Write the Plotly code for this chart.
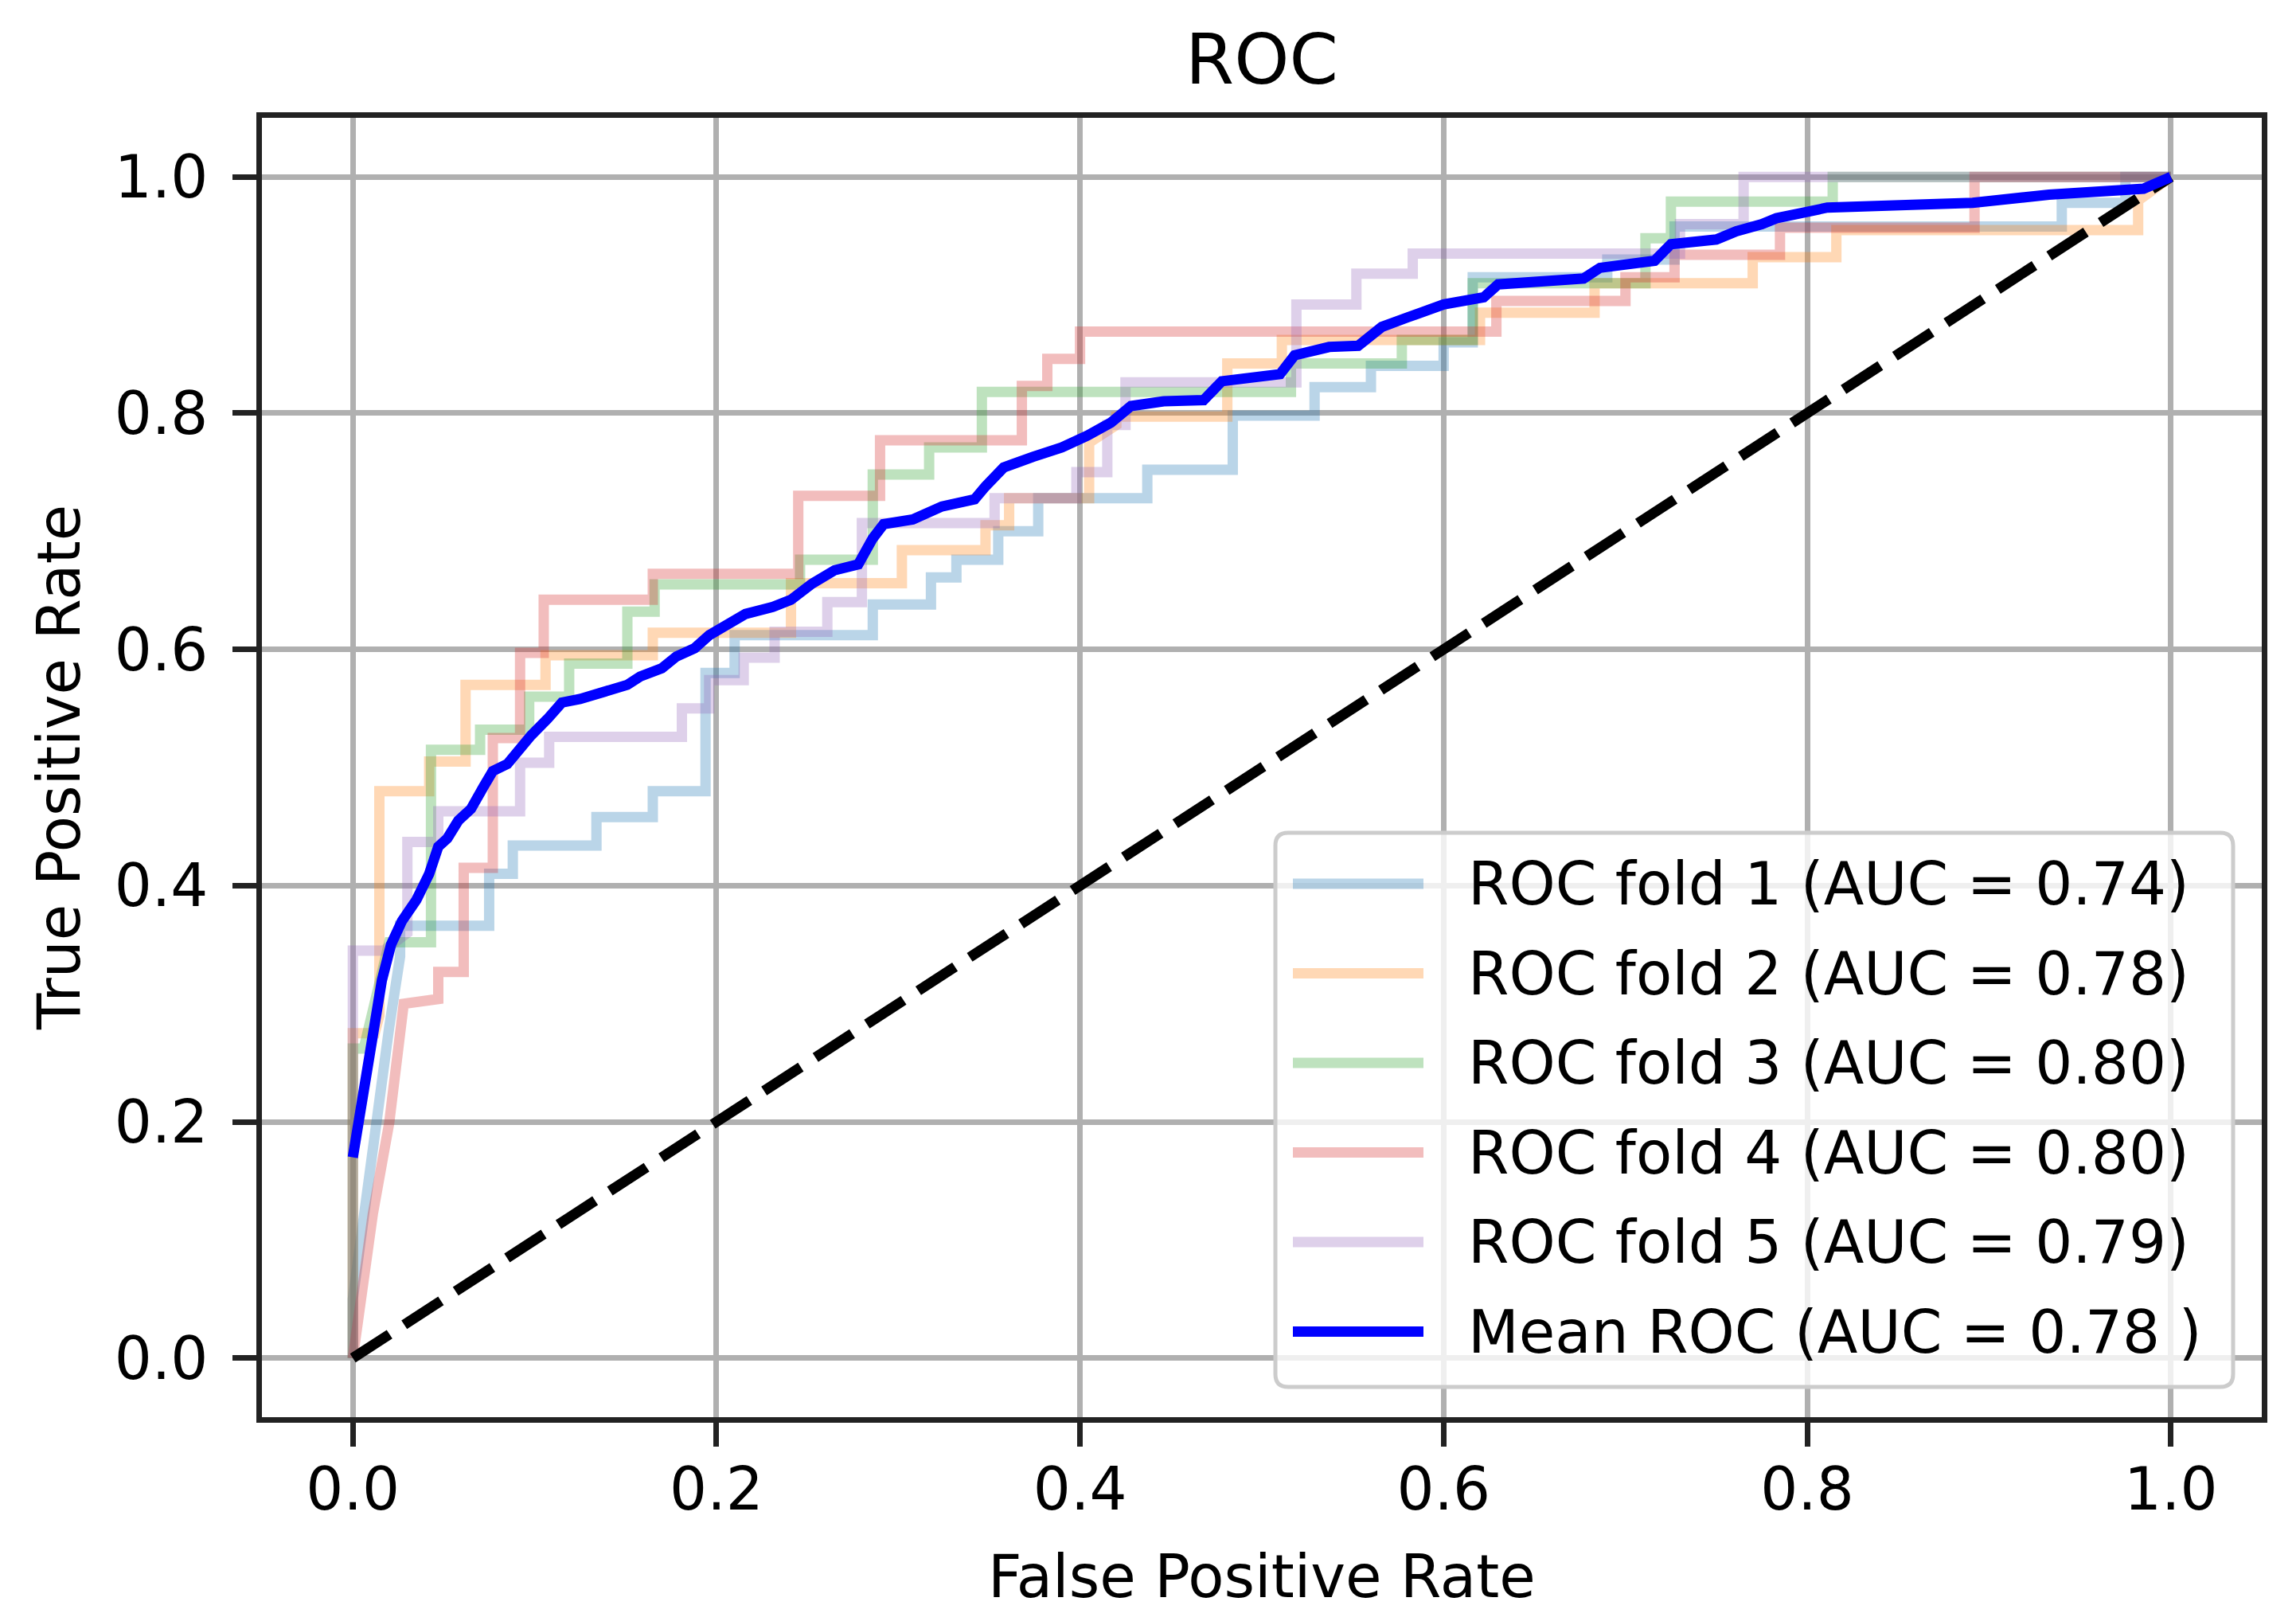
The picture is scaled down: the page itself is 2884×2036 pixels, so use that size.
import plotly.graph_objects as go

# ---- data ----
fold1_fpr = [0, 0, 0.02, 0.026, 0.026, 0.075, 0.075, 0.088, 0.088, 0.134,
             0.134, 0.165, 0.165, 0.194, 0.194, 0.21, 0.21, 0.286, 0.286, 0.318,
             0.318, 0.332, 0.332, 0.355, 0.355, 0.377, 0.377, 0.437, 0.437, 0.484,
             0.484, 0.529, 0.529, 0.56, 0.56, 0.6, 0.6, 0.616, 0.616, 0.69,
             0.69, 0.727, 0.727, 0.94, 0.94, 0.975, 0.975, 1.0]
fold1_tpr = [0, 0.05, 0.28, 0.34, 0.366, 0.366, 0.41, 0.41, 0.434, 0.434,
             0.458, 0.458, 0.48, 0.48, 0.58, 0.58, 0.612, 0.612, 0.638, 0.638,
             0.661, 0.661, 0.676, 0.676, 0.70, 0.70, 0.728, 0.728, 0.752, 0.752,
             0.798, 0.798, 0.822, 0.822, 0.84, 0.84, 0.86, 0.86, 0.915, 0.915,
             0.93, 0.93, 0.958, 0.958, 0.978, 0.978, 1.0, 1.0]

fold2_fpr = [0, 0, 0.012, 0.0146, 0.0146, 0.042, 0.042, 0.062, 0.062, 0.106,
             0.106, 0.165, 0.165, 0.241, 0.241, 0.302, 0.302, 0.348, 0.348, 0.361,
             0.361, 0.405, 0.405, 0.42, 0.42, 0.481, 0.481, 0.511, 0.511, 0.62,
             0.62, 0.683, 0.683, 0.77, 0.77, 0.816, 0.816, 0.982, 0.982, 1.0]
fold2_tpr = [0, 0.275, 0.275, 0.29, 0.48, 0.48, 0.505, 0.505, 0.57, 0.57,
             0.595, 0.595, 0.614, 0.614, 0.656, 0.656, 0.684, 0.684, 0.705, 0.705,
             0.728, 0.728, 0.775, 0.79, 0.797, 0.797, 0.842, 0.842, 0.862, 0.862,
             0.885, 0.885, 0.91, 0.91, 0.932, 0.932, 0.955, 0.955, 0.98, 1.0]

fold3_fpr = [0, 0, 0.006, 0.02, 0.043, 0.043, 0.07, 0.07, 0.097, 0.097,
             0.119, 0.119, 0.151, 0.151, 0.166, 0.166, 0.246, 0.246, 0.286, 0.286,
             0.317, 0.317, 0.346, 0.346, 0.516, 0.516, 0.577, 0.577, 0.616, 0.616,
             0.711, 0.711, 0.725, 0.725, 0.814, 0.814, 1.0]
fold3_tpr = [0, 0.262, 0.262, 0.352, 0.352, 0.515, 0.515, 0.532, 0.532, 0.56,
             0.56, 0.588, 0.588, 0.632, 0.632, 0.655, 0.655, 0.676, 0.676, 0.748,
             0.748, 0.771, 0.771, 0.818, 0.818, 0.842, 0.842, 0.862, 0.862, 0.91,
             0.91, 0.948, 0.948, 0.979, 0.979, 1.0, 1.0]

fold4_fpr = [0, 0.011, 0.02, 0.028, 0.047, 0.047, 0.061, 0.061, 0.077, 0.077,
             0.092, 0.092, 0.105, 0.105, 0.165, 0.165, 0.245, 0.245, 0.29, 0.29,
             0.368, 0.368, 0.382, 0.382, 0.4, 0.4, 0.629, 0.629, 0.70, 0.70,
             0.727, 0.727, 0.785, 0.785, 0.892, 0.892, 1.0]
fold4_tpr = [0, 0.122, 0.199, 0.30, 0.304, 0.327, 0.327, 0.415, 0.415, 0.525,
             0.525, 0.597, 0.597, 0.642, 0.642, 0.664, 0.664, 0.73, 0.73, 0.777,
             0.777, 0.823, 0.823, 0.846, 0.846, 0.869, 0.869, 0.895, 0.895, 0.915,
             0.915, 0.934, 0.934, 0.957, 0.957, 1.0, 1.0]

fold5_fpr = [0, 0, 0.017, 0.03, 0.03, 0.047, 0.047, 0.092, 0.092, 0.108,
             0.108, 0.181, 0.181, 0.196, 0.196, 0.215, 0.215, 0.232, 0.232, 0.261,
             0.261, 0.28, 0.28, 0.353, 0.353, 0.398, 0.398, 0.415, 0.415, 0.425,
             0.425, 0.519, 0.519, 0.552, 0.552, 0.583, 0.583, 0.73, 0.73, 0.765,
             0.765, 1.0]
fold5_tpr = [0, 0.345, 0.345, 0.36, 0.437, 0.437, 0.463, 0.463, 0.504, 0.504,
             0.526, 0.526, 0.55, 0.55, 0.574, 0.574, 0.593, 0.593, 0.615, 0.615,
             0.64, 0.64, 0.707, 0.707, 0.728, 0.728, 0.75, 0.75, 0.79, 0.79,
             0.826, 0.826, 0.892, 0.892, 0.918, 0.918, 0.935, 0.935, 0.96, 0.96,
             1.0, 1.0]

mean_fpr = [0, 0.004, 0.008, 0.012, 0.016, 0.021, 0.027, 0.035, 0.042, 0.047,
            0.052, 0.058, 0.065, 0.072, 0.077, 0.085, 0.092, 0.098, 0.107, 0.115,
            0.125, 0.142, 0.151, 0.158, 0.170, 0.178, 0.188, 0.196, 0.203, 0.216,
            0.231, 0.241, 0.252, 0.265, 0.278, 0.286, 0.292, 0.308, 0.324, 0.342,
            0.348, 0.358, 0.374, 0.390, 0.404, 0.417, 0.428, 0.446, 0.468, 0.478,
            0.494, 0.510, 0.518, 0.537, 0.553, 0.566, 0.580, 0.600, 0.622, 0.630,
            0.677, 0.686, 0.716, 0.725, 0.750, 0.761, 0.775, 0.783, 0.811, 0.891,
            0.933, 0.960, 0.985, 1.0]
mean_tpr = [0.17, 0.207, 0.245, 0.284, 0.32, 0.35, 0.37, 0.388, 0.41, 0.433,
            0.44, 0.455, 0.465, 0.484, 0.497, 0.503, 0.517, 0.527, 0.541, 0.555,
            0.558, 0.565, 0.570, 0.577, 0.584, 0.594, 0.601, 0.612, 0.618, 0.630,
            0.636, 0.642, 0.655, 0.667, 0.672, 0.694, 0.706, 0.710, 0.721, 0.727,
            0.738, 0.754, 0.763, 0.771, 0.781, 0.792, 0.806, 0.810, 0.811, 0.827,
            0.830, 0.833, 0.849, 0.856, 0.857, 0.873, 0.881, 0.892, 0.898, 0.909,
            0.914, 0.923, 0.929, 0.943, 0.947, 0.954, 0.960, 0.965, 0.974, 0.978,
            0.985, 0.988, 0.99, 1.0]

fold_aucs = [0.74, 0.78, 0.80, 0.80, 0.79]
mean_auc = 0.78
chance_x = [0, 1]
chance_y = [0, 1]
tick_vals = [0.0, 0.2, 0.4, 0.6, 0.8, 1.0]
tick_text = ["0.0", "0.2", "0.4", "0.6", "0.8", "1.0"]

folds = [(fold1_fpr, fold1_tpr), (fold2_fpr, fold2_tpr), (fold3_fpr, fold3_tpr),
         (fold4_fpr, fold4_tpr), (fold5_fpr, fold5_tpr)]
fold_colors = ["#1f77b4", "#ff7f0e", "#2ca02c", "#d62728", "#9467bd"]

FONT = "DejaVu Sans"
W, H = 2884, 2036
L, R, T, B = 321, 51, 140, 264
LW = 13
FS = 74

fig = go.Figure()

labels = []
for i, (fx, fy) in enumerate(folds):
    name = "ROC fold %d (AUC = %.2f)" % (i + 1, fold_aucs[i])
    labels.append((name, fold_colors[i], 0.3))
    fig.add_trace(go.Scatter(x=fx, y=fy, mode="lines", name=name, opacity=0.3,
                             line=dict(color=fold_colors[i], width=LW),
                             showlegend=False))

fig.add_trace(go.Scatter(x=chance_x, y=chance_y, mode="lines", name="Chance",
                         line=dict(color="black", width=LW, dash="55px,22px"),
                         showlegend=False))

mean_name = "Mean ROC (AUC = %.2f )" % mean_auc
labels.append((mean_name, "#0000ff", 1.0))
fig.add_trace(go.Scatter(x=mean_fpr, y=mean_tpr, mode="lines", name=mean_name,
                         line=dict(color="#0000ff", width=LW), showlegend=False))

# ---- hand-made legend box (matplotlib style), in paper coordinates ----
pw, ph = W - L - R, H - T - B
def px(xp):
    return (xp - L) / pw
def py(yp):
    return (H - B - yp) / ph

x0, x1, y0, y1 = px(1594), px(2797), py(1734), py(1038)
rx, ry = 16 / pw, 16 / ph
path = ("M %f,%f L %f,%f Q %f,%f %f,%f L %f,%f Q %f,%f %f,%f L %f,%f Q %f,%f %f,%f "
        "L %f,%f Q %f,%f %f,%f Z") % (
    x0 + rx, y0, x1 - rx, y0, x1, y0, x1, y0 + ry,
    x1, y1 - ry, x1, y1, x1 - rx, y1,
    x0 + rx, y1, x0, y1, x0, y1 - ry,
    x0, y0 + ry, x0, y0, x0 + rx, y0)
shapes = [dict(type="path", xref="paper", yref="paper", path=path,
               fillcolor="rgba(255,255,255,0.8)", line=dict(color="#cccccc", width=5),
               layer="above")]
annotations = []
for i, (name, col, op) in enumerate(labels):
    yc = py(1102 + 112.5 * i)
    shapes.append(dict(type="line", xref="paper", yref="paper",
                       x0=px(1616), x1=px(1780), y0=yc, y1=yc, opacity=op,
                       line=dict(color=col, width=LW), layer="above"))
    annotations.append(dict(text=name, xref="paper", yref="paper", x=px(1834), y=yc,
                            xanchor="left", yanchor="middle", showarrow=False,
                            font=dict(family=FONT, size=FS, color="black")))

annotations.append(dict(text="False Positive Rate", xref="paper", yref="paper",
                        x=0.5, y=py(1972), xanchor="center", yanchor="middle",
                        showarrow=False, font=dict(family=FONT, size=FS, color="black")))
annotations.append(dict(text="True Positive Rate", xref="paper", yref="paper",
                        x=px(66), y=0.5, xanchor="center", yanchor="middle", textangle=-90,
                        showarrow=False, font=dict(family=FONT, size=FS, color="black")))

axis_style = dict(range=[-0.05, 1.05], tickvals=tick_vals, ticktext=tick_text,
                  showgrid=True, gridcolor="#b0b0b0", gridwidth=6.5, zeroline=False,
                  showline=True, linecolor="#222222", linewidth=6.5, mirror=True,
                  ticks="outside", ticklen=30, tickwidth=6.5, tickcolor="#222222",
                  tickfont=dict(family=FONT, size=FS, color="black"))

fig.update_layout(
    width=W, height=H,
    margin=dict(l=L, r=R, t=T, b=B),
    paper_bgcolor="white", plot_bgcolor="white",
    title=dict(text="ROC", x=(L + pw / 2) / W, xanchor="center",
               y=1 - 66 / H, yanchor="middle",
               font=dict(family=FONT, size=88, color="black")),
    xaxis=dict(**axis_style, ticklabelstandoff=-10),
    yaxis=dict(**axis_style, ticklabelstandoff=16),
    shapes=shapes, annotations=annotations,
    showlegend=False,
)

fig.write_html("out.html")
